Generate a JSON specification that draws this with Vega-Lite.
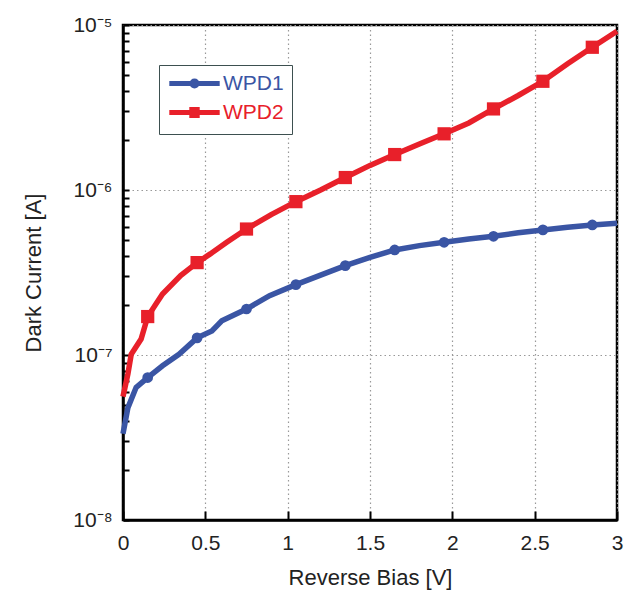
{
  "$schema": "https://vega.github.io/schema/vega-lite/v6.json",
  "width": 494,
  "height": 495,
  "autosize": {"type": "none"},
  "padding": {"left": 123, "top": 25, "right": 22, "bottom": 86},
  "background": "white",
  "config": {"view": {"stroke": "black", "strokeWidth": 2.5}, "font": "Liberation Sans"},
  "datasets": {
    "curves": [
      {"series": "WPD1", "V": 0, "I": 3.33e-8},
      {"series": "WPD1", "V": 0.03, "I": 4.8e-8},
      {"series": "WPD1", "V": 0.08, "I": 6.37e-8},
      {"series": "WPD1", "V": 0.15, "I": 7.3e-8},
      {"series": "WPD1", "V": 0.24, "I": 8.6e-8},
      {"series": "WPD1", "V": 0.34, "I": 1.01e-7},
      {"series": "WPD1", "V": 0.45, "I": 1.27e-7},
      {"series": "WPD1", "V": 0.54, "I": 1.4e-7},
      {"series": "WPD1", "V": 0.6, "I": 1.61e-7},
      {"series": "WPD1", "V": 0.75, "I": 1.9e-7},
      {"series": "WPD1", "V": 0.89, "I": 2.29e-7},
      {"series": "WPD1", "V": 1.05, "I": 2.67e-7},
      {"series": "WPD1", "V": 1.2, "I": 3.05e-7},
      {"series": "WPD1", "V": 1.35, "I": 3.48e-7},
      {"series": "WPD1", "V": 1.5, "I": 3.91e-7},
      {"series": "WPD1", "V": 1.65, "I": 4.33e-7},
      {"series": "WPD1", "V": 1.8, "I": 4.6e-7},
      {"series": "WPD1", "V": 1.95, "I": 4.82e-7},
      {"series": "WPD1", "V": 2.1, "I": 5.05e-7},
      {"series": "WPD1", "V": 2.25, "I": 5.24e-7},
      {"series": "WPD1", "V": 2.4, "I": 5.5e-7},
      {"series": "WPD1", "V": 2.55, "I": 5.73e-7},
      {"series": "WPD1", "V": 2.7, "I": 5.95e-7},
      {"series": "WPD1", "V": 2.85, "I": 6.14e-7},
      {"series": "WPD1", "V": 3.0, "I": 6.28e-7},
      {"series": "WPD2", "V": 0, "I": 5.6e-8},
      {"series": "WPD2", "V": 0.03, "I": 7.7e-8},
      {"series": "WPD2", "V": 0.05, "I": 1.01e-7},
      {"series": "WPD2", "V": 0.11, "I": 1.25e-7},
      {"series": "WPD2", "V": 0.15, "I": 1.71e-7},
      {"series": "WPD2", "V": 0.24, "I": 2.34e-7},
      {"series": "WPD2", "V": 0.35, "I": 3.03e-7},
      {"series": "WPD2", "V": 0.45, "I": 3.63e-7},
      {"series": "WPD2", "V": 0.53, "I": 4.1e-7},
      {"series": "WPD2", "V": 0.63, "I": 4.82e-7},
      {"series": "WPD2", "V": 0.75, "I": 5.8e-7},
      {"series": "WPD2", "V": 0.9, "I": 7.1e-7},
      {"series": "WPD2", "V": 1.05, "I": 8.5e-7},
      {"series": "WPD2", "V": 1.2, "I": 1.0e-6},
      {"series": "WPD2", "V": 1.35, "I": 1.19e-6},
      {"series": "WPD2", "V": 1.5, "I": 1.41e-6},
      {"series": "WPD2", "V": 1.65, "I": 1.64e-6},
      {"series": "WPD2", "V": 1.8, "I": 1.9e-6},
      {"series": "WPD2", "V": 1.95, "I": 2.19e-6},
      {"series": "WPD2", "V": 2.1, "I": 2.55e-6},
      {"series": "WPD2", "V": 2.25, "I": 3.1e-6},
      {"series": "WPD2", "V": 2.4, "I": 3.74e-6},
      {"series": "WPD2", "V": 2.55, "I": 4.56e-6},
      {"series": "WPD2", "V": 2.7, "I": 5.82e-6},
      {"series": "WPD2", "V": 2.85, "I": 7.33e-6},
      {"series": "WPD2", "V": 3.0, "I": 9.17e-6}
    ],
    "markers": [
      {"series": "WPD1", "V": 0.15, "I": 7.3e-8},
      {"series": "WPD1", "V": 0.45, "I": 1.27e-7},
      {"series": "WPD1", "V": 0.75, "I": 1.9e-7},
      {"series": "WPD1", "V": 1.05, "I": 2.67e-7},
      {"series": "WPD1", "V": 1.35, "I": 3.48e-7},
      {"series": "WPD1", "V": 1.65, "I": 4.33e-7},
      {"series": "WPD1", "V": 1.95, "I": 4.82e-7},
      {"series": "WPD1", "V": 2.25, "I": 5.24e-7},
      {"series": "WPD1", "V": 2.55, "I": 5.73e-7},
      {"series": "WPD1", "V": 2.85, "I": 6.14e-7},
      {"series": "WPD2", "V": 0.15, "I": 1.71e-7},
      {"series": "WPD2", "V": 0.45, "I": 3.63e-7},
      {"series": "WPD2", "V": 0.75, "I": 5.8e-7},
      {"series": "WPD2", "V": 1.05, "I": 8.5e-7},
      {"series": "WPD2", "V": 1.35, "I": 1.19e-6},
      {"series": "WPD2", "V": 1.65, "I": 1.64e-6},
      {"series": "WPD2", "V": 1.95, "I": 2.19e-6},
      {"series": "WPD2", "V": 2.25, "I": 3.1e-6},
      {"series": "WPD2", "V": 2.55, "I": 4.56e-6},
      {"series": "WPD2", "V": 2.85, "I": 7.33e-6}
    ]
  },
  "layer": [
    {
      "data": {"name": "curves"},
      "mark": {"type": "line", "strokeWidth": 5.5, "clip": false},
      "encoding": {
        "x": {
          "field": "V", "type": "quantitative",
          "scale": {"domain": [0, 3], "nice": false, "zero": false},
          "axis": {
            "orient": "bottom",
            "values": [0, 0.5, 1, 1.5, 2, 2.5, 3],
            "format": "~g",
            "labelFont": "Liberation Sans",
            "labelFontSize": 21,
            "labelColor": "#222",
            "labelFlush": false,
            "labelPadding": 21,
            "domainColor": "black",
            "domainWidth": 2.5,
            "tickColor": "black",
            "tickWidth": 2,
            "tickSize": -9,
            "grid": true,
            "gridColor": "#999",
            "gridDash": [1.5, 3],
            "gridWidth": 1.2,
            "title": "Reverse Bias [V]",
            "titleFont": "Liberation Sans",
            "titleFontSize": 22,
            "titleFontWeight": "normal",
            "titleColor": "#222",
            "titlePadding": 14
          }
        },
        "y": {
          "field": "I", "type": "quantitative",
          "scale": {"type": "log", "domain": [1e-8, 1e-5], "nice": false},
          "axis": {
            "orient": "left",
            "values": [1e-8, 2e-8, 3e-8, 4e-8, 5e-8, 6e-8, 7e-8, 8e-8, 9e-8, 1e-7, 2e-7, 3e-7, 4e-7, 5e-7, 6e-7, 7e-7, 8e-7, 9e-7, 1e-6, 2e-6, 3e-6, 4e-6, 5e-6, 6e-6, 7e-6, 8e-6, 9e-6, 1e-5],
            "labelExpr": "abs(log(datum.value)/LN10 - round(log(datum.value)/LN10)) < 0.001 ? (round(log(datum.value)/LN10) == -5 ? '10⁻⁵' : round(log(datum.value)/LN10) == -6 ? '10⁻⁶' : round(log(datum.value)/LN10) == -7 ? '10⁻⁷' : '10⁻⁸') : ''",
            "labelFont": "Liberation Sans",
            "labelFontSize": 21,
            "labelColor": "#222",
            "labelFlush": false,
            "labelOverlap": false,
            "labelBound": false,
            "labelPadding": 17,
            "domainColor": "black",
            "domainWidth": 2.5,
            "tickColor": "black",
            "tickWidth": 2,
            "tickSize": -6,
            "grid": true,
            "gridColor": "#999",
            "gridDash": [1.5, 3],
            "gridWidth": 1.2,
            "gridOpacity": {"condition": {"test": "abs(log(datum.value)/LN10 - round(log(datum.value)/LN10)) < 0.001", "value": 1}, "value": 0},
            "title": "Dark Current [A]",
            "titleFont": "Liberation Sans",
            "titleFontSize": 22,
            "titleFontWeight": "normal",
            "titleColor": "#222",
            "titlePadding": 27
          }
        },
        "color": {
          "field": "series", "type": "nominal",
          "scale": {"domain": ["WPD1", "WPD2"], "range": ["#3a55a4", "#e8202a"]},
          "legend": {
            "orient": "none",
            "legendX": 36,
            "legendY": 40,
            "title": null,
            "strokeColor": "#3d5050",
            "fillColor": "white",
            "padding": 8,
            "labelFont": "Liberation Sans",
            "labelFontSize": 21,
            "symbolSize": 144,
            "symbolStrokeWidth": 5,
            "symbolOffset": 17,
            "labelOffset": 18,
            "rowPadding": 2,
            "encode": {
              "symbols": {
                "enter": {
                  "shape": {"signal": "datum.value == 'WPD1' ? 'M-4.2,0H4.2M0.42,0A0.42,0.42,0,1,1,-0.42,0A0.42,0.42,0,1,1,0.42,0Z' : 'M-4.2,0H4.2M-0.45,-0.5H0.45V0.5H-0.45Z'"}
                },
                "update": {
                  "shape": {"signal": "datum.value == 'WPD1' ? 'M-4.2,0H4.2M0.42,0A0.42,0.42,0,1,1,-0.42,0A0.42,0.42,0,1,1,0.42,0Z' : 'M-4.2,0H4.2M-0.45,-0.5H0.45V0.5H-0.45Z'"},
                  "fill": {"signal": "datum.value == 'WPD1' ? '#3a55a4' : '#e8202a'"},
                  "stroke": {"signal": "datum.value == 'WPD1' ? '#3a55a4' : '#e8202a'"},
                  "strokeWidth": {"value": 5},
                  "opacity": {"value": 1}
                }
              },
              "labels": {
                "update": {
                  "fill": {"signal": "datum.value == 'WPD1' ? '#3a55a4' : '#e8202a'"}
                }
              }
            }
          }
        }
      }
    },
    {
      "data": {"name": "markers"},
      "mark": {"type": "point", "filled": true, "opacity": 1, "strokeWidth": 0},
      "encoding": {
        "x": {"field": "V", "type": "quantitative"},
        "y": {"field": "I", "type": "quantitative"},
        "color": {"field": "series", "type": "nominal"},
        "shape": {"condition": {"test": "datum.series == 'WPD1'", "value": "circle"}, "value": "square"},
        "size": {"condition": {"test": "datum.series == 'WPD1'", "value": 115}, "value": 175}
      }
    }
  ]
}
